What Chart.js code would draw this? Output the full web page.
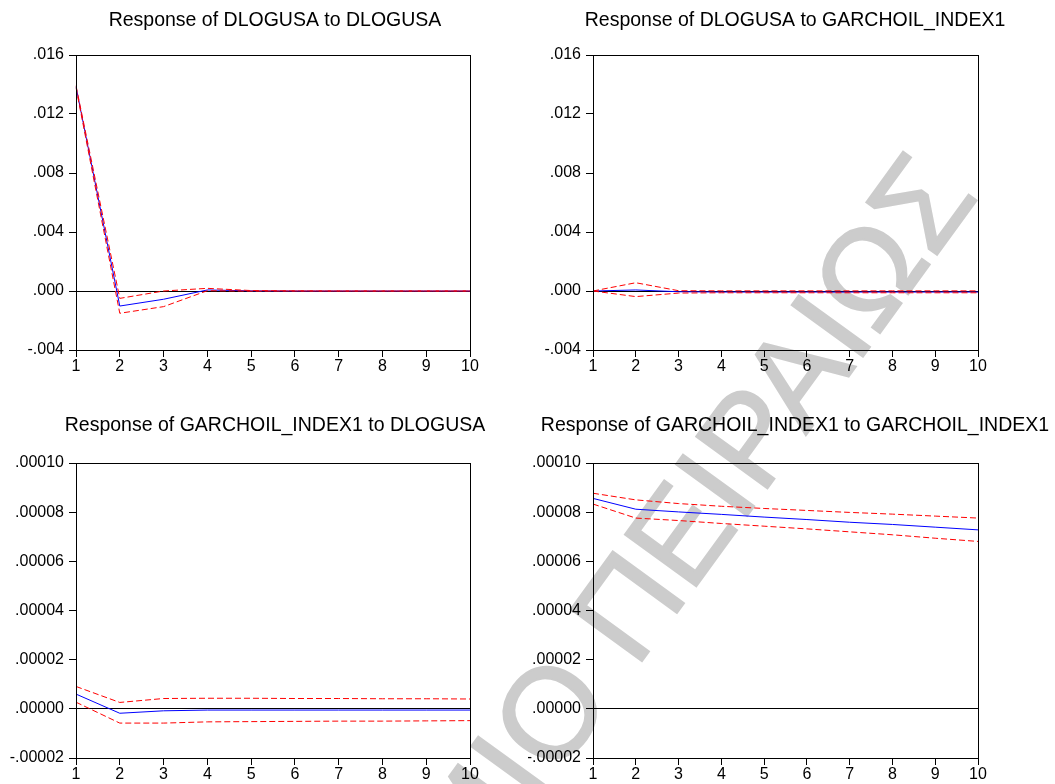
<!DOCTYPE html>
<html>
<head>
<meta charset="utf-8">
<title>Impulse responses</title>
<script src="https://cdn.jsdelivr.net/npm/chart.js@4.4.1/dist/chart.umd.min.js"></script>
<style>
	html, body { margin: 0; padding: 0; background: #fff; overflow: hidden; }
	#page { position: relative; width: 1055px; height: 784px; overflow: hidden; }
	#page canvas { position: absolute; }
	.watermark {
		position: absolute;
		right: 118px;
		top: 100px;
		height: 130px;
		line-height: 130px;
		font: 128px "Liberation Sans", Arial, sans-serif;
		color: #cccccc;
		-webkit-text-stroke: 2px #cccccc;
		white-space: nowrap;
		transform-origin: 100% 50%;
		transform: rotate(-54deg);
	}
</style>
</head>
<body>
<div id="page">
	<div class="watermark">ΠΑΝΕΠΙΣΤΗΜΙΟ ΠΕΙΡΑΙΩΣ</div>
	<canvas id="irf-usa-usa" width="550" height="376" style="left:0;top:0"></canvas>
	<canvas id="irf-usa-oil" width="534" height="376" style="left:528px;top:0"></canvas>
	<canvas id="irf-oil-usa" width="550" height="376" style="left:0;top:408px"></canvas>
	<canvas id="irf-oil-oil" width="534" height="376" style="left:528px;top:408px"></canvas>
</div>
<script>
'use strict';

// periods after the shock
const PERIODS = [ '1', '2', '3', '4', '5', '6', '7', '8', '9', '10' ];

const Y_TICKS_TOP = [ -0.004, 0, 0.004, 0.008, 0.012, 0.016 ];
const Y_TICKS_BOTTOM = [ -0.00002, 0, 0.00002, 0.00004, 0.00006, 0.00008, 0.0001 ];

// Response of DLOGUSA to DLOGUSA
const USA_USA = [ 0.01385, -0.00102, -0.00056, 0.00007, 0.00001, 0, 0, 0, 0, 0 ];
const USA_USA_UP = [ 0.01392, -0.00050, 0.00000, 0.00018, 0.00003, 0.00001, 0, 0, 0, 0 ];
const USA_USA_LO = [ 0.01378, -0.00151, -0.00106, 0.00002, -0.00001, 0, 0, 0, 0, 0 ];

// Response of DLOGUSA to GARCHOIL_INDEX1
const USA_OIL = [ 0, 0.00007, -0.00005, -0.00007, -0.00007, -0.00007, -0.00007, -0.00007, -0.00007, -0.00007 ];
const USA_OIL_UP = [ 0, 0.00056, 0.00002, 0.00001, 0.00001, 0.00001, 0.00001, 0.00001, 0.00001, 0.00001 ];
const USA_OIL_LO = [ 0, -0.00038, -0.00014, -0.00012, -0.00012, -0.00012, -0.00012, -0.00012, -0.00012, -0.00012 ];

// Response of GARCHOIL_INDEX1 to DLOGUSA
const OIL_USA = [ 0.0000060, -0.0000018, -0.0000008, -0.0000005, -0.0000005, -0.0000005, -0.0000005, -0.0000005, -0.0000005, -0.0000005 ];
const OIL_USA_UP = [ 0.0000091, 0.0000026, 0.0000042, 0.0000043, 0.0000043, 0.0000042, 0.0000042, 0.0000041, 0.0000041, 0.0000040 ];
const OIL_USA_LO = [ 0.0000027, -0.0000058, -0.0000058, -0.0000053, -0.0000052, -0.0000051, -0.0000050, -0.0000050, -0.0000049, -0.0000048 ];

// Response of GARCHOIL_INDEX1 to GARCHOIL_INDEX1
const OIL_OIL = [ 0.0000856, 0.0000812, 0.0000801, 0.0000791, 0.0000780, 0.0000770, 0.0000759, 0.0000750, 0.0000739, 0.0000728 ];
const OIL_OIL_UP = [ 0.0000877, 0.0000850, 0.0000835, 0.0000824, 0.0000815, 0.0000807, 0.0000799, 0.0000792, 0.0000784, 0.0000776 ];
const OIL_OIL_LO = [ 0.0000833, 0.0000776, 0.0000766, 0.0000754, 0.0000743, 0.0000732, 0.0000720, 0.0000708, 0.0000694, 0.0000681 ];

const FONT = '"Liberation Sans", Arial, sans-serif';

// black box round the plot area, like the EViews frame
const frame = {
	id: 'frame',
	afterDatasetsDraw: function ( chart ) {
		const a = chart.chartArea;
		const ctx = chart.ctx;
		ctx.save();
		ctx.strokeStyle = '#000';
		ctx.lineWidth = 1;
		ctx.strokeRect( Math.round( a.left ) + 0.5, Math.round( a.top ) + 0.5,
			Math.round( a.right - a.left ), Math.round( a.bottom - a.top ) );
		ctx.restore();
	},
};

function fmt( value, decimals ) {
	const s = Math.abs( value ) < 1e-12 ? ( 0 ).toFixed( decimals ) : value.toFixed( decimals );
	return s.replace( '0.', '.' );
}

function drawPanel( id, cfg ) {
	const line = function ( data, dashed ) {
		return {
			data: data,
			borderColor: dashed ? '#ff0000' : '#0000ff',
			borderWidth: 1,
			borderDash: dashed ? [ 6, 3 ] : [],
			pointRadius: 0,
			tension: 0,
			fill: false,
		};
	};

	new Chart( document.getElementById( id ), {
		type: 'line',
		data: {
			labels: PERIODS,
			datasets: [
				line( cfg.up, true ),
				line( cfg.lo, true ),
				line( cfg.mid, false ),
			],
		},
		options: {
			responsive: false,
			animation: false,
			events: [],
			layout: { padding: 0 },
			plugins: {
				legend: { display: false },
				tooltip: { enabled: false },
				title: {
					display: true,
					text: cfg.title,
					color: '#000',
					font: { family: FONT, size: 19.5, weight: 'normal', lineHeight: '23px' },
					padding: { top: cfg.titleTop, bottom: 55 - 23 - cfg.titleTop },
				},
			},
			scales: {
				x: {
					grid: { drawOnChartArea: false, tickLength: 7, tickColor: '#000' },
					border: { display: false },
					ticks: { color: '#000', padding: 0, maxRotation: 0, autoSkip: false, font: { family: FONT, size: 16 } },
					afterFit: function ( scale ) {
						scale.height = 26;
					},
				},
				y: {
					min: cfg.ticks[ 0 ],
					max: cfg.ticks[ cfg.ticks.length - 1 ],
					grid: {
						color: function ( c ) {
							return c.tick && Math.abs( c.tick.value ) < 1e-12 ? '#000' : 'rgba(0,0,0,0)';
						},
						tickColor: '#000',
						tickLength: 7,
					},
					border: { display: false },
					ticks: {
						color: '#000',
						padding: 5,
						font: { family: FONT, size: 16 },
						callback: function ( value ) {
							return fmt( value, cfg.decimals );
						},
					},
					afterBuildTicks: function ( scale ) {
						scale.ticks = cfg.ticks.map( function ( v ) {
							return { value: v };
						} );
					},
					afterFit: function ( scale ) {
						scale.width = cfg.axisWidth;
					},
				},
				// empty right axis, only keeps white space right of the plot
				gap: {
					type: 'linear',
					axis: 'y',
					position: 'right',
					display: true,
					grid: { display: false },
					border: { display: false },
					ticks: { display: false },
					afterFit: function ( scale ) {
						scale.width = cfg.padRight;
					},
				},
			},
		},
		plugins: [ frame ],
	} );
}

drawPanel( 'irf-usa-usa', {
	title: 'Response of DLOGUSA to DLOGUSA',
	mid: USA_USA, up: USA_USA_UP, lo: USA_USA_LO,
	ticks: Y_TICKS_TOP, decimals: 3,
	axisWidth: 76, padRight: 80, titleTop: 9,
} );

drawPanel( 'irf-usa-oil', {
	title: 'Response of DLOGUSA to GARCHOIL_INDEX1',
	mid: USA_OIL, up: USA_OIL_UP, lo: USA_OIL_LO,
	ticks: Y_TICKS_TOP, decimals: 3,
	axisWidth: 65, padRight: 84, titleTop: 9,
} );

drawPanel( 'irf-oil-usa', {
	title: 'Response of GARCHOIL_INDEX1 to DLOGUSA',
	mid: OIL_USA, up: OIL_USA_UP, lo: OIL_USA_LO,
	ticks: Y_TICKS_BOTTOM, decimals: 5,
	axisWidth: 76, padRight: 80, titleTop: 6,
} );

drawPanel( 'irf-oil-oil', {
	title: 'Response of GARCHOIL_INDEX1 to GARCHOIL_INDEX1',
	mid: OIL_OIL, up: OIL_OIL_UP, lo: OIL_OIL_LO,
	ticks: Y_TICKS_BOTTOM, decimals: 5,
	axisWidth: 65, padRight: 84, titleTop: 6,
} );
</script>
</body>
</html>
